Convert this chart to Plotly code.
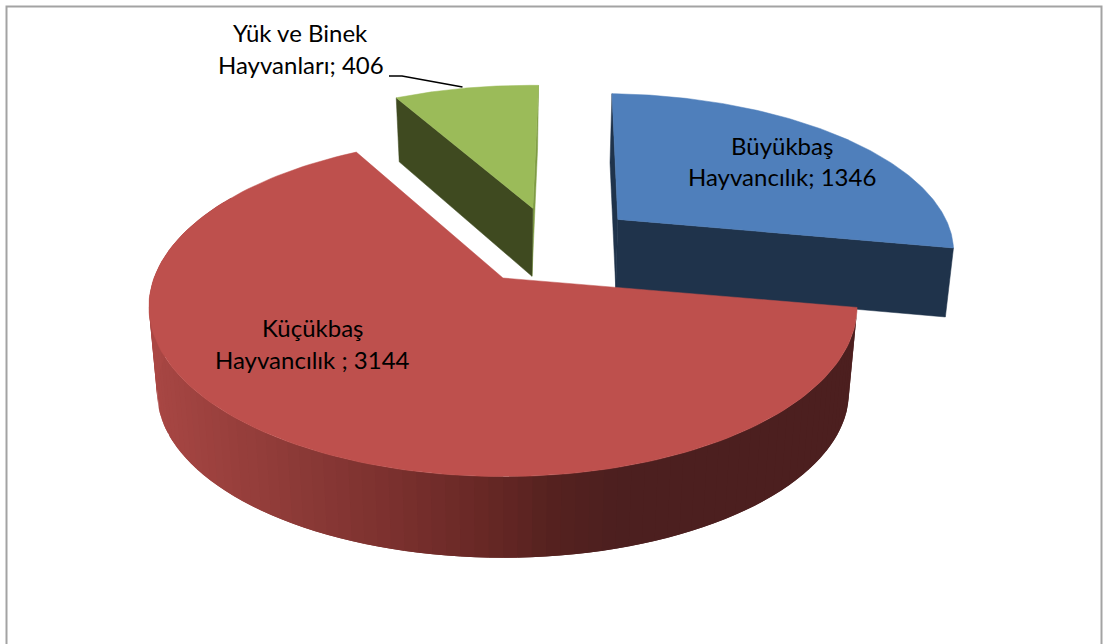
import numpy as np
import plotly.graph_objects as go

# ---- data ----
categories = ["Büyükbaş Hayvancılık", "Küçükbaş Hayvancılık ", "Yük ve Binek Hayvanları"]
values = [1346, 3144, 406]
label_line1 = ["Büyükbaş", "Küçükbaş", "Yük ve Binek"]
label_line2 = ["Hayvancılık; 1346", "Hayvancılık ; 3144", "Hayvanları; 406"]

# ---- styling / projection ----
top_colors = ["#4f7fbb", "#be504d", "#9bbb59"]
side_colors = ["#1f334b", None, "#3f4a20"]
edge_colors = ["#1f334b", None, "#7f9c45"]
CX, CY, RX, RY, P = 503.0, 278.0, 349.0, 165.0, 0.169
START = 2.0
# explosion offsets, extrusion and small rotation per slice
geom = [
    dict(ou=0.350, ov=0.378, xs=0.982, ys=1.000, h=69.0, rot=0.0),
    dict(ou=0.000, ov=0.000, xs=0.977, ys=0.976, h=86.0, rot=-1.0),
    dict(ou=0.092, ov=0.455, xs=0.972, ys=1.036, h=70.5, rot=0.0),
]
shade_x = [150, 165, 300, 400, 500, 550, 620, 860]
shade_c = np.array([
    [172, 72, 69], [166, 70, 67], [140, 58, 55], [122, 48, 46],
    [100, 39, 36], [86, 34, 32], [76, 31, 31], [76, 31, 31],
])


def project(t_deg, r, g, bottom=False):
    t = np.radians(np.asarray(t_deg, dtype=float) + g["rot"])
    u = r * np.sin(t) + g["ou"]
    v = r * np.cos(t) + g["ov"]
    w = 1 + P * v
    X = RX * u / w
    Y = -RY * v / w
    if bottom:
        X = X * g["xs"]
        Y = Y * g["ys"] + g["h"]
    return CX + X, CY + Y


def poly(x, y, color, line=0.0):
    return go.Scatter(
        x=list(x), y=list(y), mode="lines", fill="toself", fillcolor=color,
        line=dict(color=color, width=line), hoverinfo="skip", showlegend=False,
    )


total = sum(values)
edges = START + np.cumsum([0] + values) / total * 360
fig = go.Figure()


def top_face(i):
    t = np.linspace(edges[i], edges[i + 1], 160)
    x, y = project(t, 1, geom[i])
    ax, ay = project(t[0], 0, geom[i])
    return poly(np.r_[ax, x, ax], np.r_[ay, y, ay], top_colors[i], 0.5)


def radial_wall(i, t0, color):
    g = geom[i]
    ax, ay = project(t0, 0, g)
    bx, by = project(t0, 1, g)
    cx, cy = project(t0, 1, g, bottom=True)
    dx, dy = project(t0, 0, g, bottom=True)
    return poly([ax, bx, cx, dx, ax], [ay, by, cy, dy, ay], color, 0.5)


# Blue slice: walls, then top
fig.add_trace(radial_wall(0, edges[0], side_colors[0]))
fig.add_trace(radial_wall(0, edges[1], side_colors[0]))
fig.add_trace(top_face(0))

# Green slice: walls, then top
fig.add_trace(radial_wall(2, edges[3], edge_colors[2]))
fig.add_trace(radial_wall(2, edges[2], side_colors[2]))
fig.add_trace(top_face(2))

# Red slice: shaded outer wall built from overlapping bands, then top
g = geom[1]
ts = np.arange(edges[1], 300, 1.0)
for a in ts[::2]:
    b = a + 4.0
    arc = np.linspace(a, b, 9)
    xt, yt = project(arc, 1, g)
    xb, yb = project(arc, 1, g, bottom=True)
    xm = (xt[0] + xt[4] + xb[0] + xb[4]) / 4
    rgb = [int(np.interp(xm, shade_x, shade_c[:, k])) for k in range(3)]
    c = f"rgb({rgb[0]},{rgb[1]},{rgb[2]})"
    fig.add_trace(poly(np.r_[xt, xb[::-1], xt[0]], np.r_[yt, yb[::-1], yt[0]], c, 0.0))
fig.add_trace(top_face(1))

# Chart frame
fig.add_trace(go.Scatter(
    x=[6.5, 6.5, 1101.5, 1101.5], y=[644, 6.5, 6.5, 644], mode="lines",
    line=dict(color="#a3a3a3", width=2), hoverinfo="skip", showlegend=False,
))
# Leader line
fig.add_trace(go.Scatter(
    x=[389, 402, 462.5], y=[76, 76, 87], mode="lines",
    line=dict(color="#000000", width=1.6), hoverinfo="skip", showlegend=False,
))

label_pos = [(781.5, 145.5, 176.5), (312, 327.5, 359.5), (300.5, 32.5, 64.5)]
for (lx, y1, y2), a, b in zip(label_pos, label_line1, label_line2):
    for yy, txt in ((y1, a), (y2, b)):
        fig.add_annotation(
            x=lx, y=yy, text=txt, showarrow=False, xanchor="center", yanchor="middle",
            font=dict(family="Lato, Carlito, sans-serif", size=24, color="#000000"),
        )

fig.update_layout(
    width=1103, height=644, margin=dict(l=0, r=0, t=0, b=0),
    paper_bgcolor="white", plot_bgcolor="white", showlegend=False,
    xaxis=dict(range=[0, 1103], visible=False, fixedrange=True),
    yaxis=dict(range=[644, 0], visible=False, fixedrange=True),
)
fig.write_html(
    "out.html", config={"displayModeBar": False},
    post_script="document.body.style.margin='0';document.documentElement.style.overflow='hidden';",
)
